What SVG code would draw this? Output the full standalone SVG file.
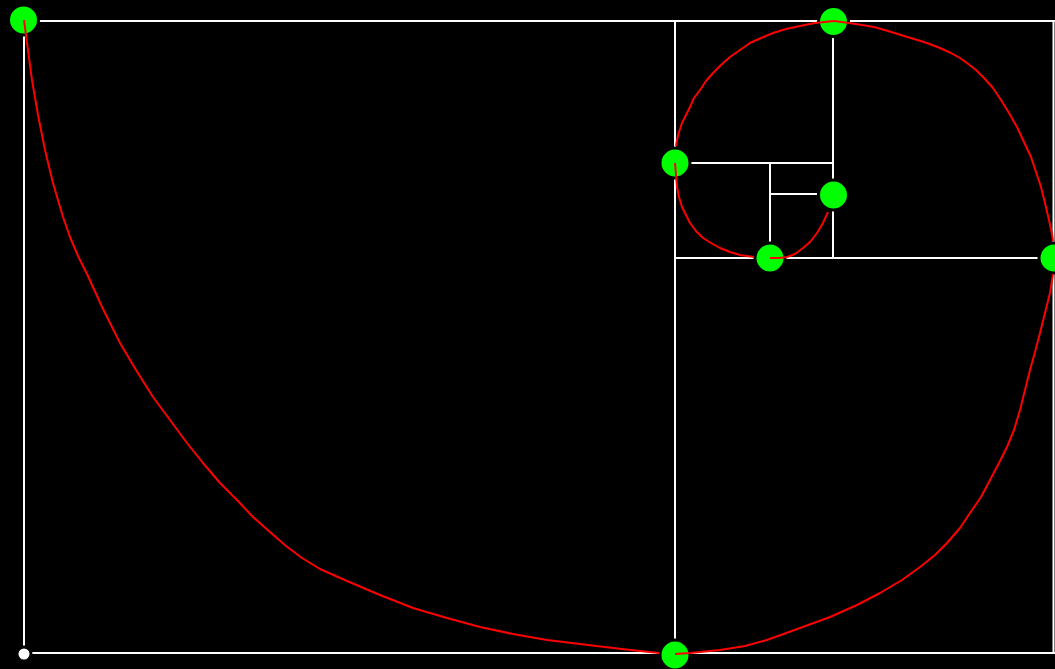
<svg xmlns="http://www.w3.org/2000/svg" width="1055" height="669" viewBox="0 0 1055 669">
<style>
.grid line{stroke:#ffffff;stroke-width:2;fill:none}
.pt circle{fill:#00ff00;stroke:#000000;stroke-width:3}
.origin circle{fill:#ffffff;stroke:#000000;stroke-width:3}
.arc{fill:none;stroke:#ff0000;stroke-width:2;stroke-linejoin:round;stroke-linecap:butt}
</style>
<rect x="0" y="0" width="1055" height="669" fill="#000000"/>
<g id="grid" class="grid">
<line x1="24" y1="21" x2="1055" y2="21"/>
<line x1="24" y1="653" x2="1055" y2="653"/>
<line x1="24" y1="21" x2="24" y2="653"/>
<line x1="1053.5" y1="21" x2="1053.5" y2="653"/>
<line x1="675" y1="21" x2="675" y2="653"/>
<line x1="675" y1="258" x2="1053.5" y2="258"/>
<line x1="833" y1="21" x2="833" y2="258"/>
<line x1="675" y1="163" x2="833" y2="163"/>
<line x1="770" y1="163" x2="770" y2="258"/>
<line x1="770" y1="194" x2="833" y2="194"/>
</g>
<g id="origin" class="origin"><circle cx="24" cy="654" r="7"/></g>
<g id="p1" class="pt"><circle cx="23.5" cy="20" r="15"/></g>
<g id="p2" class="pt"><circle cx="675" cy="655" r="15"/></g>
<g id="p3" class="pt"><circle cx="1054" cy="258" r="15"/></g>
<g id="p4" class="pt"><circle cx="833.5" cy="21.5" r="15"/></g>
<g id="p5" class="pt"><circle cx="675" cy="163" r="15"/></g>
<g id="p6" class="pt"><circle cx="770" cy="258" r="15"/></g>
<g id="p7" class="pt"><circle cx="833.5" cy="195" r="15"/></g>
<g id="connectors">
<path class="arc" d="M24,20 L28,50 L32,80 L38,115 L45,150 L53,183 L63,217 L70,237 L78,256 L87,274 L103,309 L120,343 L136,370 L153,397 L170,420 L187,443 L203,463 L220,483 L237,500 L253,517 L270,532 L286,546 L302,558 L320,569 L347,581 L380,595 L413,608 L447,618 L480,627 L513,634 L547,640 L580,644 L613,648 L640,651 L659,653"/>
<path class="arc" d="M675,654 L690,653 L720,650 L745,646 L767,640 L800,628 L830,617 L857,605 L880,593 L902,580 L920,567 L935,555 L947,543 L960,528 L970,513 L981,497 L990,480 L999,463 L1007,447 L1014,430 L1020,410 L1025,390 L1030,370 L1035,352 L1040,333 L1045,313 L1050,293 L1053,274"/>
<path class="arc" d="M834,21 L849,23 L862,25 L874,27 L888,31 L901,35 L914,39 L927,43 L940,48 L951,53 L960,58 L967,63 L976,70 L984,78 L993,88 L1001,100 L1009,113 L1017,127 L1024,142 L1031,157 L1036,172 L1041,187 L1045,203 L1049,220 L1052,234 L1053,241"/>
<path class="arc" d="M834,21 L815,23 L800,26 L786,29 L773,33 L761,38 L750,43 L740,50 L730,57 L721,65 L713,73 L706,81 L700,90 L694,98 L690,107 L686,115 L682,123 L679,132 L677,140 L676,146"/>
<path class="arc" d="M675,163 L676,175 L677,187 L679,197 L682,207 L686,215 L690,223 L696,231 L703,238 L711,243 L720,248 L730,252 L740,255 L754,257"/>
<path class="arc" d="M770,258 L779,258 L787,257 L795,254 L803,248 L810,242 L817,233 L823,223 L828,212"/>
</g>
</svg>
